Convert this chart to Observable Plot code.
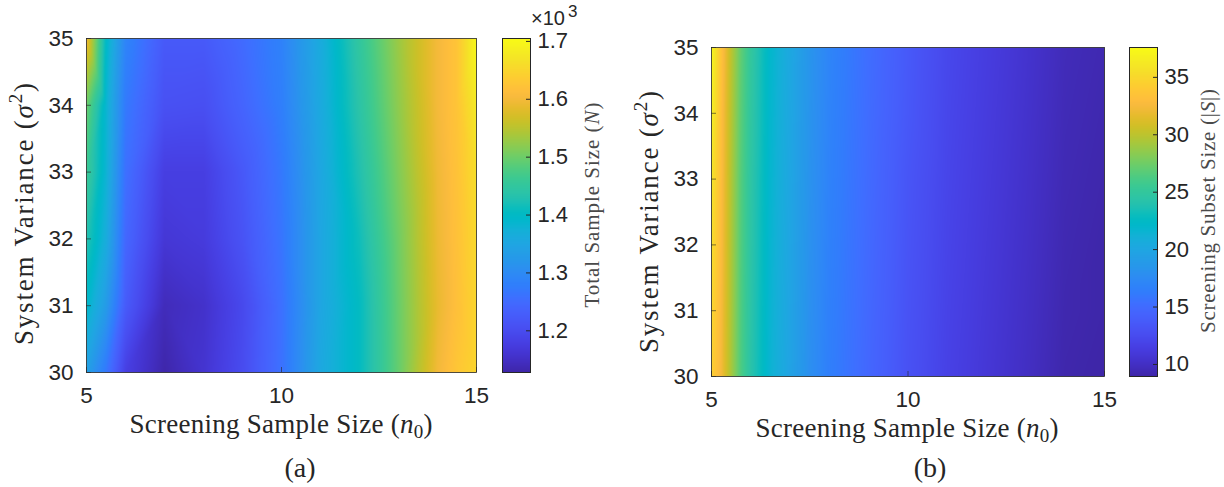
<!DOCTYPE html>
<html>
<head>
<meta charset="utf-8">
<script src="https://cdn.jsdelivr.net/npm/d3@7"></script>
<script src="https://cdn.jsdelivr.net/npm/@observablehq/plot@0.6"></script>
<style>
html, body { margin: 0; padding: 0; background: #fff; }
#root { position: relative; width: 1224px; height: 487px; overflow: hidden; background: #fff; }
#root > svg { position: absolute; left: 0; top: 0; }
</style>
</head>
<body>
<div id="root"></div>
<script>
// ---------------- DATA ----------------
// Panel (a): Total Sample Size N over screening sample size n0 (x) and system variance sigma^2 (y)
const n0A = [5, 5.5, 6, 7, 8, 9, 10, 11, 12, 13, 14, 14.5, 15];
const sigma2 = [30, 31, 32, 33, 34, 35];
const totalN_s30 = [1340, 1270, 1180, 1130, 1160, 1200, 1260, 1355, 1405, 1495, 1598, 1628, 1650];
const totalN_s31 = [1395, 1330, 1225, 1142, 1155, 1195, 1258, 1350, 1405, 1497, 1588, 1618, 1650];
const totalN_s32 = [1432, 1365, 1245, 1165, 1172, 1212, 1265, 1350, 1415, 1502, 1592, 1620, 1655];
const totalN_s33 = [1462, 1380, 1258, 1178, 1178, 1220, 1270, 1352, 1428, 1512, 1595, 1622, 1662];
const totalN_s34 = [1500, 1385, 1272, 1208, 1205, 1240, 1280, 1358, 1440, 1522, 1600, 1625, 1678];
const totalN_s35 = [1600, 1400, 1290, 1222, 1222, 1250, 1285, 1362, 1450, 1530, 1600, 1625, 1700];
const totalNRange = [1128, 1705];
const totalNTicks = [1200, 1300, 1400, 1500, 1600, 1700];

// Panel (b): Screening Subset Size |S|
const n0B = [5, 5.25, 5.5, 5.75, 6, 6.5, 7, 7.5, 8, 9, 10, 11, 12, 13, 14, 15];
const subset_s30 = [34.5, 32.4, 29.3, 26.3, 24.3, 21.5, 19.7, 17.9, 16.5, 14.7, 13.0, 11.7, 10.8, 10.0, 9.1, 8.9];
const subset_s31 = [35.0, 32.6, 29.4, 26.4, 24.4, 21.6, 19.8, 18.0, 16.6, 14.8, 13.1, 11.8, 10.9, 10.1, 9.2, 9.0];
const subset_s32 = [35.5, 32.8, 29.5, 26.5, 24.5, 21.7, 19.9, 18.1, 16.7, 14.9, 13.2, 11.9, 11.0, 10.2, 9.3, 9.0];
const subset_s33 = [36.0, 33.0, 29.6, 26.6, 24.6, 21.8, 20.0, 18.2, 16.8, 15.0, 13.3, 12.0, 11.1, 10.3, 9.4, 9.1];
const subset_s34 = [36.8, 33.2, 29.8, 26.8, 24.8, 21.9, 20.1, 18.3, 16.9, 15.1, 13.5, 12.1, 11.2, 10.4, 9.5, 9.2];
const subset_s35 = [37.3, 33.5, 30.0, 27.0, 25.0, 22.0, 20.2, 18.4, 17.0, 15.2, 13.6, 12.2, 11.3, 10.5, 9.6, 9.3];
const subsetRange = [8.95, 37.6];
const subsetTicks = [10, 15, 20, 25, 30, 35];

const xTicks = [5, 10, 15];
const yTicks = [30, 31, 32, 33, 34, 35];
const xDomain = [5, 15];
const yDomain = [30, 35];

// ---------------- STYLE ----------------
const parulaRGB = [
[0.2422,0.1504,0.6603],[0.2504,0.1650,0.7076],[0.2578,0.1818,0.7511],[0.2647,0.1978,0.7952],
[0.2706,0.2147,0.8364],[0.2751,0.2342,0.8710],[0.2783,0.2559,0.8991],[0.2803,0.2782,0.9221],
[0.2813,0.3006,0.9414],[0.2810,0.3228,0.9579],[0.2795,0.3447,0.9717],[0.2760,0.3667,0.9829],
[0.2699,0.3892,0.9906],[0.2602,0.4123,0.9952],[0.2440,0.4358,0.9988],[0.2206,0.4603,0.9973],
[0.1963,0.4847,0.9892],[0.1834,0.5074,0.9798],[0.1786,0.5289,0.9682],[0.1764,0.5499,0.9520],
[0.1687,0.5703,0.9359],[0.1540,0.5902,0.9218],[0.1460,0.6091,0.9079],[0.1380,0.6276,0.8973],
[0.1248,0.6459,0.8883],[0.1113,0.6635,0.8763],[0.0952,0.6798,0.8598],[0.0689,0.6948,0.8394],
[0.0297,0.7082,0.8163],[0.0036,0.7203,0.7917],[0.0067,0.7312,0.7660],[0.0433,0.7411,0.7394],
[0.0964,0.7500,0.7120],[0.1408,0.7584,0.6842],[0.1717,0.7670,0.6554],[0.1938,0.7758,0.6251],
[0.2161,0.7843,0.5923],[0.2470,0.7918,0.5567],[0.2906,0.7973,0.5188],[0.3406,0.8008,0.4789],
[0.3909,0.8029,0.4354],[0.4456,0.8024,0.3909],[0.5044,0.7993,0.3480],[0.5616,0.7942,0.3045],
[0.6174,0.7876,0.2612],[0.6720,0.7793,0.2227],[0.7242,0.7698,0.1910],[0.7738,0.7598,0.1646],
[0.8203,0.7498,0.1535],[0.8634,0.7406,0.1596],[0.9035,0.7330,0.1774],[0.9393,0.7288,0.2100],
[0.9728,0.7298,0.2394],[0.9956,0.7434,0.2371],[0.9970,0.7659,0.2199],[0.9952,0.7893,0.2028],
[0.9892,0.8136,0.1885],[0.9786,0.8386,0.1766],[0.9676,0.8639,0.1643],[0.9610,0.8890,0.1537],
[0.9597,0.9135,0.1423],[0.9628,0.9373,0.1265],[0.9691,0.9606,0.1064],[0.9769,0.9839,0.0805]];
const parula = d3.piecewise(d3.interpolateRgb, parulaRGB.map(([r,g,b]) => d3.rgb(r*255, g*255, b*255).formatHex()));

const W = 1224, H = 487;
const SANS = "'Liberation Sans', Arial, Helvetica, sans-serif";
const SERIF = "'Liberation Serif', 'Times New Roman', serif";
const INK = "#262626";

function table(xs, rows) {
  const out = [];
  rows.forEach((row, j) => row.forEach((v, i) => out.push({x: xs[i], y: sigma2[j], v})));
  return out;
}

const root = document.getElementById("root");

function panel(cfg) {
  const color = {type: "linear", domain: cfg.range, interpolate: parula, clamp: true};
  const style = {background: "transparent", overflow: "visible", fontFamily: SANS, fontSize: "22.5px", color: INK};
  const heat = Plot.plot({
    width: W, height: H,
    marginLeft: cfg.L, marginRight: W - cfg.R, marginTop: cfg.T, marginBottom: H - cfg.B,
    x: {domain: xDomain}, y: {domain: yDomain},
    color, style,
    marks: [
      Plot.raster(cfg.data, {x: "x", y: "y", fill: "v", interpolate: "barycentric",
        x1: xDomain[0], x2: xDomain[1], y1: yDomain[0], y2: yDomain[1]}),
      Plot.frame({stroke: INK, strokeWidth: 0.8}),
      Plot.axisX(xTicks, {anchor: "bottom", tickSize: -5, tickPadding: 20, label: null, strokeOpacity: 0.6, tickFormat: "d"}),
      Plot.axisY(yTicks, {anchor: "left", tickSize: -5, tickPadding: 18, label: null, strokeOpacity: 0.6, tickFormat: "d"})
    ]
  });
  root.appendChild(heat);

  const bar = Plot.plot({
    width: W, height: H,
    marginLeft: cfg.cL, marginRight: W - cfg.cR, marginTop: cfg.T, marginBottom: H - cfg.B,
    x: {domain: [0, 1], axis: null}, y: {domain: cfg.range, axis: null},
    color, style: {...style, fontSize: "22px"},
    marks: [
      Plot.raster({x1: 0, x2: 1, y1: cfg.range[0], y2: cfg.range[1], fill: (x, y) => y}),
      Plot.frame({stroke: INK, strokeWidth: 1}),
      Plot.axisY(cfg.ticks, {anchor: "right", tickSize: -5, tickPadding: 12, label: null, tickFormat: cfg.fmt})
    ]
  });
  root.appendChild(bar);
}

panel({
  data: table(n0A, [totalN_s30, totalN_s31, totalN_s32, totalN_s33, totalN_s34, totalN_s35]),
  range: totalNRange, ticks: totalNTicks, fmt: d => (d / 1000).toFixed(1),
  L: 86, R: 476, T: 38, B: 372, cL: 502, cR: 530
});
panel({
  data: table(n0B, [subset_s30, subset_s31, subset_s32, subset_s33, subset_s34, subset_s35]),
  range: subsetRange, ticks: subsetTicks, fmt: d => String(d),
  L: 711, R: 1104, T: 47, B: 376, cL: 1129, cR: 1157
});

// ---------------- LABELS ----------------
const svg = d3.select(root).append("svg").attr("width", W).attr("height", H)
  .style("font-family", SERIF).style("fill", INK);

function xTitle(cx, y) {
  const t = svg.append("text").attr("x", cx).attr("y", y).attr("text-anchor", "middle")
    .attr("font-size", 27).attr("textLength", 303).attr("lengthAdjust", "spacing");
  t.append("tspan").text("Screening Sample Size (");
  t.append("tspan").attr("font-style", "italic").text("n");
  t.append("tspan").attr("font-size", 19).attr("dy", 5).text("0");
  t.append("tspan").attr("dy", -5).text(")");
}
function yTitle(x, cy) {
  const t = svg.append("text").attr("transform", `translate(${x},${cy}) rotate(-90)`).attr("text-anchor", "middle")
    .attr("font-size", 27).attr("textLength", 262).attr("lengthAdjust", "spacing");
  t.append("tspan").text("System Variance (");
  t.append("tspan").attr("font-style", "italic").text("σ");
  t.append("tspan").attr("font-size", 19).attr("dy", -11).text("2");
  t.append("tspan").attr("dy", 11).text(")");
}
function cbTitle(x, cy, parts, len) {
  const t = svg.append("text").attr("transform", `translate(${x},${cy}) rotate(-90)`).attr("text-anchor", "middle")
    .attr("font-size", 21).attr("fill", "#4a4a4a").attr("textLength", len).attr("lengthAdjust", "spacing");
  parts.forEach(([s, it]) => t.append("tspan").attr("font-style", it ? "italic" : null).text(s));
}
function caption(cx, y, s) {
  svg.append("text").attr("x", cx).attr("y", y).attr("text-anchor", "middle").attr("font-size", 28).text(s);
}

xTitle(281, 433);
yTitle(33, 214);
cbTitle(599, 205, [["Total Sample Size (", false], ["N", true], [")", false]], 205);
caption(300, 477, "(a)");
const mult = svg.append("text").attr("x", 531).attr("y", 25).style("font-family", SANS).attr("font-size", 20);
mult.append("tspan").text("×10");
mult.append("tspan").attr("font-size", 17).attr("dy", -8).attr("dx", 3).text("3");

xTitle(907, 437);
yTitle(658, 222);
cbTitle(1215, 211, [["Screening Subset Size (|", false], ["S", true], ["|)", false]], 244);
caption(930, 477, "(b)");
</script>
</body>
</html>
